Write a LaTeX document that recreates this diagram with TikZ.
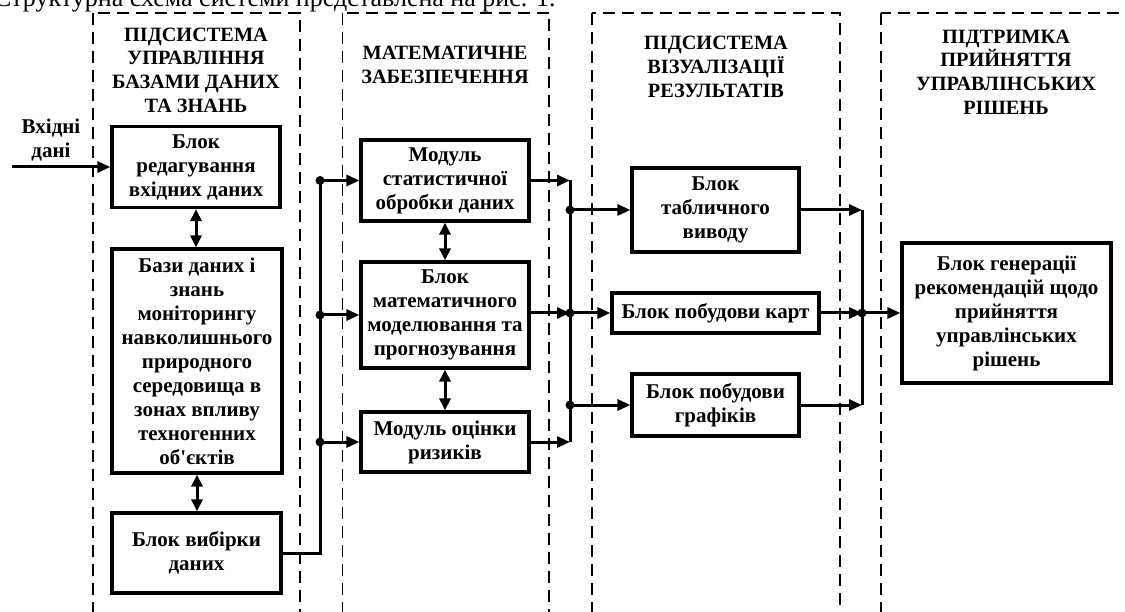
\documentclass[tikz,border=0pt]{standalone}
\usepackage{fontspec}
\setmainfont{Liberation Serif}
\usetikzlibrary{arrows.meta}
\begin{document}
\begin{tikzpicture}[x=1pt,y=-1pt,
  blk/.style={draw,line width=3.2pt,align=center,inner sep=0pt,font=\bfseries\fontsize{21}{24}\selectfont},
  hdr/.style={align=center,inner sep=0pt,font=\bfseries\fontsize{20.3}{23.7}\selectfont},
  lane/.style={draw,dash pattern=on 12pt off 7pt,line width=1.6pt},
  conn/.style={line width=3pt,-{Triangle[length=13pt,width=11pt]}},
  dconn/.style={line width=3pt,{Triangle[length=12pt,width=11pt]}-{Triangle[length=12pt,width=11pt]}},
  wire/.style={line width=3pt},
  dot/.style={circle,fill,inner sep=0pt,minimum size=9pt}]
\clip (0,0) rectangle (1125,612);
\useasboundingbox (0,0) rectangle (1125,612);

% caption line (cut at top)
\node[anchor=base west,inner sep=0pt,font=\fontsize{26}{30}\selectfont] (cap) at (-6,7) {Структурна схема системи представлена на рис. 1.};

% lanes
\draw[lane] (92.7,13) rectangle (300,660);
\draw[lane] (342.5,13) rectangle (549,660);
\draw[lane] (592,13) rectangle (840,660);
\draw[lane] (881,13) rectangle (1132,660);

% headers
\node[hdr] (h1) at (196,70) {ПІДСИСТЕМА\\УПРАВЛІННЯ\\БАЗАМИ ДАНИХ\\ТА ЗНАНЬ};
\node[hdr] (h2) at (445,65) {МАТЕМАТИЧНЕ\\ЗАБЕЗПЕЧЕННЯ};
\node[hdr] (h3) at (716,67) {ПІДСИСТЕМА\\ВІЗУАЛІЗАЦІЇ\\РЕЗУЛЬТАТІВ};
\node[hdr] (h4) at (1006,72) {ПІДТРИМКА\\ПРИЙНЯТТЯ\\УПРАВЛІНСЬКИХ\\РІШЕНЬ};

% input
\node[hdr,font=\bfseries\fontsize{21}{23.5}\selectfont] (inlbl) at (51,140) {Вхідні\\дані};
\coordinate (in) at (12,167);

% column 1
\node[blk,minimum width=168pt,minimum height=81pt] (b1) at (196,167) {Блок\\редагування\\вхідних даних};
\node[blk,minimum width=170pt,minimum height=224pt] (b2) at (197,361) {Бази даних і\\знань\\моніторингу\\навколишнього\\природного\\середовища в\\зонах впливу\\техногенних\\об\textquotesingle єктів};
\node[blk,minimum width=169pt,minimum height=80pt] (b3) at (196.5,553) {Блок вибірки\\даних};

% column 2
\node[blk,minimum width=168pt,minimum height=81pt] (m1) at (445,180.5) {Модуль\\статистичної\\обробки даних};
\node[blk,minimum width=168pt,minimum height=106pt] (m2) at (445,315) {Блок\\математичного\\моделювання та\\прогнозування};
\node[blk,minimum width=168pt,minimum height=60pt] (m3) at (445,442) {Модуль оцінки\\ризиків};

% column 3
\node[blk,minimum width=167pt,minimum height=84pt] (tab) at (715.5,210) {Блок\\табличного\\виводу};
\node[blk,minimum width=207pt,minimum height=40pt] (map) at (715.5,313) {Блок побудови карт};
\node[blk,minimum width=167pt,minimum height=62pt] (gr) at (715.5,405) {Блок побудови\\графіків};

% column 4
\node[blk,minimum width=209pt,minimum height=140pt] (fin) at (1006.5,313) {Блок генерації\\рекомендацій щодо\\прийняття\\управлінських\\рішень};

% bus coordinates
\coordinate (L1) at (320,180.5);
\coordinate (L2) at (320,315);
\coordinate (L3) at (320,442);
\coordinate (R1) at (570,180.5);
\coordinate (R2) at (570,313);
\coordinate (R3) at (570,442);
\coordinate (S1) at (570,210);
\coordinate (S3) at (570,405);
\coordinate (T1) at (862,210);
\coordinate (T2) at (862,313);
\coordinate (T3) at (862,405);

% connectors
\draw[conn] (in) -- (b1.west);
\draw[dconn] (b1.south) -- (b1.south |- b2.north);
\draw[dconn] (b2.south) -- (b2.south |- b3.north);
\draw[dconn] (m1.south) -- (m2.north);
\draw[dconn] (m2.south) -- (m3.north);

\draw[wire] (b3.east) -| (L1);
\draw[conn] (L1) -- (m1.west);
\draw[conn] (L2) -- (m2.west);
\draw[conn] (L3) -- (m3.west);
\node[dot] (dL1) at (L1) {};
\node[dot] (dL2) at (L2) {};
\node[dot] (dL3) at (L3) {};

\draw[conn] (m1.east) -- (R1);
\draw[conn] (m2.east |- R2) -- (R2);
\draw[conn] (m3.east) -- (R3);
\draw[wire] (R1) -- (R3);
\draw[conn] (S1) -- (tab.west);
\draw[conn] (R2) -- (map.west);
\draw[conn] (S3) -- (gr.west);
\node[dot] (dS1) at (S1) {};
\node[dot] (dR2) at (R2) {};
\node[dot] (dS3) at (S3) {};

\draw[conn] (tab.east) -- (T1);
\draw[conn] (map.east) -- (T2);
\draw[conn] (gr.east) -- (T3);
\draw[wire] (T1) -- (T3);
\node[dot] (dT2) at (T2) {};
\draw[conn] (T2) -- (fin.west);
\end{tikzpicture}
\end{document}
